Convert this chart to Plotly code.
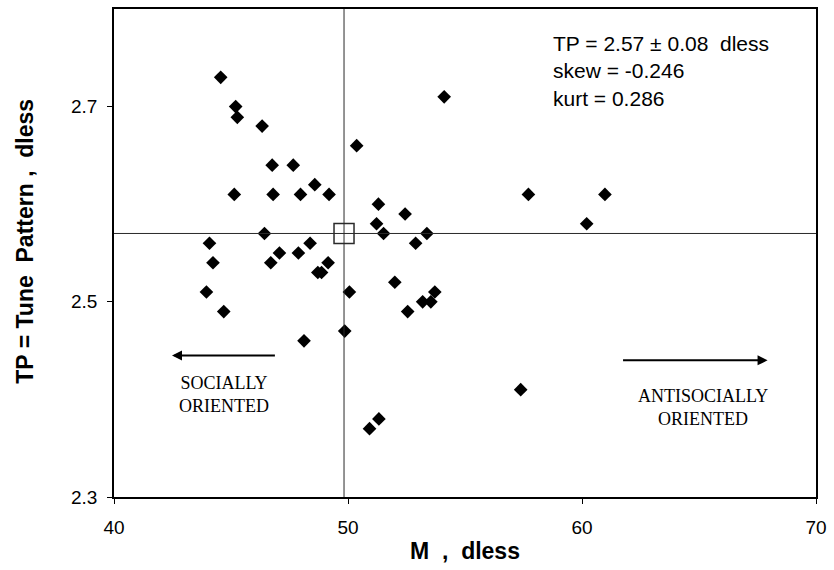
import plotly.graph_objects as go

# Data
M = [44.56, 45.20, 45.27, 46.33, 50.37, 54.11, 46.76, 47.66, 48.58, 45.14,
     46.80, 47.97, 49.19, 51.30, 52.44, 51.22, 46.43, 51.52, 53.37, 52.89,
     44.08, 48.38, 47.07, 47.88, 44.23, 46.70, 49.15, 48.71, 48.87, 52.00,
     43.95, 50.06, 53.71, 53.19, 53.54, 44.69, 52.55, 49.86, 48.12, 51.32,
     50.92, 57.71, 60.98, 60.20, 57.38]
TP = [2.730, 2.700, 2.689, 2.680, 2.660, 2.710, 2.640, 2.640, 2.620, 2.610,
      2.610, 2.610, 2.610, 2.600, 2.590, 2.580, 2.570, 2.570, 2.570, 2.560,
      2.560, 2.560, 2.550, 2.550, 2.540, 2.540, 2.540, 2.530, 2.530, 2.520,
      2.510, 2.510, 2.510, 2.500, 2.500, 2.490, 2.490, 2.470, 2.460, 2.380,
      2.370, 2.610, 2.610, 2.580, 2.410]
mean_M = 49.83
mean_TP = 2.57

x_range = [40, 70]
y_range = [2.3, 2.8]
x_ticks = [40, 50, 60, 70]
y_ticks = [2.3, 2.5, 2.7]

stats_text = "TP = 2.57 ± 0.08  dless<br>skew = -0.246<br>kurt = 0.286"
left_label = "SOCIALLY<br>ORIENTED"
right_label = "ANTISOCIALLY<br>ORIENTED"

fig = go.Figure()

# mean cross-hair lines
fig.add_shape(type="line", x0=x_range[0], x1=x_range[1], y0=mean_TP, y1=mean_TP,
              xref="x", yref="y", line=dict(color="#2a2a2a", width=1))
fig.add_shape(type="line", x0=mean_M, x1=mean_M, y0=y_range[0], y1=y_range[1],
              xref="x", yref="y", line=dict(color="#2a2a2a", width=1))

fig.add_trace(go.Scatter(x=M, y=TP, mode="markers",
                         marker=dict(symbol="diamond", size=10.5, color="black",
                                     line=dict(width=0)),
                         showlegend=False, hoverinfo="x+y"))
fig.add_trace(go.Scatter(x=[mean_M], y=[mean_TP], mode="markers",
                         marker=dict(symbol="square-open", size=20, color="#2a2a2a",
                                     line=dict(width=1.5, color="#2a2a2a")),
                         showlegend=False))

serif = "Liberation Serif, Times New Roman, serif"
sans = "Liberation Sans, Arial, sans-serif"

W, H = 834, 570
ml, mr, mt, mb = 114, 13, 7, 73
pw, ph = W - ml - mr, H - mt - mb

annotations = [
    dict(x=58.67, y=2.779, xref="x", yref="y", text=stats_text, showarrow=False,
         xanchor="left", yanchor="top", align="left",
         font=dict(family=sans, size=21, color="black")),
    # left arrow
    dict(x=42.48, y=2.445, ax=46.94, ay=2.445, xref="x", yref="y", axref="x", ayref="y",
         text="", showarrow=True, arrowhead=2, arrowsize=1, arrowwidth=2,
         arrowcolor="black"),
    # right arrow
    dict(x=67.93, y=2.440, ax=61.69, ay=2.440, xref="x", yref="y", axref="x", ayref="y",
         text="", showarrow=True, arrowhead=2, arrowsize=1, arrowwidth=2,
         arrowcolor="black"),
    dict(x=44.70, y=2.405, xref="x", yref="y", text=left_label, showarrow=False,
         xanchor="center", yanchor="middle", align="center",
         font=dict(family=serif, size=18, color="black")),
    dict(x=65.19, y=2.392, xref="x", yref="y", text=right_label, showarrow=False,
         xanchor="center", yanchor="middle", align="center",
         font=dict(family=serif, size=18, color="black")),
    # y-axis title
    dict(x=(24 - ml) / pw, y=1 - (240 - mt) / ph, xref="paper", yref="paper",
         text="<b>TP = Tune  Pattern ,  dless</b>",
         showarrow=False, textangle=-90, xanchor="center", yanchor="middle",
         font=dict(family=sans, size=23, color="black")),
]

fig.update_layout(
    width=W, height=H,
    margin=dict(l=ml, r=mr, t=mt, b=mb, pad=0),
    paper_bgcolor="white", plot_bgcolor="white",
    annotations=annotations,
    xaxis=dict(range=x_range, tickvals=x_ticks, ticks="outside", ticklen=5,
               tickwidth=1, tickcolor="black", showgrid=False, zeroline=False,
               showline=True, linecolor="black", linewidth=1.5, mirror=True,
               tickfont=dict(family=sans, size=19, color="black"),
               ticklabelstandoff=7,
               title=dict(text="<b>M  ,  dless</b>", standoff=6,
                          font=dict(family=sans, size=23, color="black"))),
    yaxis=dict(range=y_range, tickvals=y_ticks, ticktext=[f"{v:.1f}" for v in y_ticks],
               ticks="outside", ticklen=5, tickwidth=1, tickcolor="black",
               showgrid=False, zeroline=False, showline=True, linecolor="black",
               linewidth=1.5, mirror=True, ticklabelstandoff=6,
               tickfont=dict(family=sans, size=19, color="black")),
)

fig.write_html("out.html")
